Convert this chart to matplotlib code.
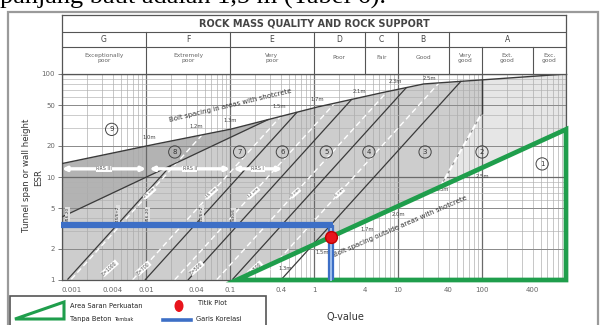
import numpy as np
import matplotlib
matplotlib.use("Agg")
import matplotlib.pyplot as plt
from matplotlib.patches import Rectangle, Polygon, Ellipse
from matplotlib.lines import Line2D

# ---------------- data ----------------
q_ticks = [0.001, 0.004, 0.01, 0.04, 0.1, 0.4, 1, 4, 10, 40, 100, 400]
q_tick_labels = ["0.001", "0.004", "0.01", "0.04", "0.1", "0.4", "1", "4",
                 "10", "40", "100", "400"]
span_ticks = [1, 2, 5, 10, 20, 50, 100]
span_tick_labels = ["1", "2", "5", "10", "20", "50", "100"]

class_letters = ["G", "F", "E", "D", "C", "B", "A"]
class_edges = [0.001, 0.01, 0.1, 1, 4, 10, 40, 1000]
class_names = ["Exceptionally\npoor", "Extremely\npoor", "Very\npoor", "Poor",
               "Fair", "Good", None]
a_sub_edges = [40, 100, 400, 1000]
a_sub_names = ["Very\ngood", "Ext.\ngood", "Exc.\ngood"]

# bolt spacing line in areas with shotcrete
upper_q = [0.001, 0.01, 0.1, 1, 5, 20, 1000]
upper_s = [13.5, 20, 29, 47, 63, 80, 100]

# boundary of category 8 (flatter line)
b8_q, b8_s, b8_slope = 0.001, 4.1, 0.385
# other category boundaries: Q where each crosses span/ESR = 17.5
cat_cross_q = [0.234, 0.76, 2.54, 9.7]
# leftmost steep line, starting at span/ESR = 1
left_q0 = 0.00115
cat_slope = 0.9

# boundary between categories 3 and 2 (dashed), then along Q = 100
b32_q = [31.8, 100, 100]
b32_s = [8.0, 41.8, 100]

# shotcrete thickness lines (dashed): Q where each crosses span/ESR = 7
shot_cross_q = [0.011, 0.06, 0.19, 0.6, 2.0]
shot_txt = ["25 cm", "15 cm", "12 cm", "9 cm", "5 cm"]

# energy absorption labels near the bottom
energy_q = [0.0037, 0.0093, 0.040, 0.20]
energy_txt = ["E=1000", "E=700", "E=500", "E=500"]

# rib / bolt specification labels (vertical)
spec_q = [0.0011, 0.0044, 0.0099, 0.044, 0.105]
spec_txt = ["Ø16-20", "D45/6+2", "Ø16-20", "D40/6+2", "Si30/6"]

# support category labels
cat_ids = ["9", "8", "7", "6", "5", "4", "3", "2", "1"]
cat_q = [0.0039, 0.022, 0.13, 0.42, 1.4, 4.5, 21, 100, 520]
cat_s = [29, 17.5, 17.5, 17.5, 17.5, 17.5, 17.5, 17.5, 13.4]

# bolt spacing labels
top_sp_q = [0.011, 0.040, 0.1, 0.39, 1.1, 3.5, 9.2, 24]
top_sp_s = [24, 30.6, 35, 48, 56, 68, 84, 91]
top_sp_txt = ["1.0m", "1.2m", "1.3m", "1.5m", "1.7m", "2.1m", "2.3m", "2.5m"]
low_sp_q = [0.45, 1.25, 4.3, 10, 34, 100]
low_sp_s = [1.28, 1.87, 3.06, 4.3, 7.5, 10]
low_sp_txt = ["1.3m", "1.5m", "1.7m", "2.0m", "2.3m", "2.5m"]

# reinforced ribs of shotcrete
rrs_q = [(0.001, 0.01), (0.011, 0.1), (0.11, 0.42)]
rrs_txt = ["RRS III", "RRS II", "RRS I"]
rrs_s = 12

# recommended area without shotcrete (triangle), correlation line and plot point
tri_q = [0.12, 1000, 1000]
tri_s = [1, 1, 29]
corr_span = 3.4
corr_q = 1.6
point_q = 1.6
point_s = 2.6

# ---------------- figure ----------------
W, H = 606, 325
fig = plt.figure(figsize=(W / 100, H / 100), dpi=100)


def fx(x):
    return x / W


def fy(y):
    return 1 - y / H


# running text of the page above the chart (cut at the top edge)
fig.text(fx(0), fy(3.5), "panjang baut adalah 1,5 m (Tabel 6).",
         family="Liberation Serif", fontsize=19, color="black",
         ha="left", va="baseline")

# outer frame of the figure
fig.patches.append(Rectangle((fx(8), fy(330)), fx(598) - fx(8), fy(12) - fy(330),
                             transform=fig.transFigure, fill=False,
                             ec="#9a9a9a", lw=1.6))

# ---------------- main axes ----------------
ax = fig.add_axes([fx(62), fy(280), fx(566) - fx(62), fy(74) - fy(280)])
ax.set_xscale("log")
ax.set_yscale("log")
ax.set_xlim(0.001, 1000)
ax.set_ylim(1, 100)

qq = np.logspace(-3, 3, 600)
lq = np.log10(qq)
upper = 10 ** np.interp(lq, np.log10(upper_q), np.log10(upper_s))
tri_line = 10 ** np.interp(lq, np.log10([tri_q[0], tri_q[2]]),
                           np.log10([tri_s[0], tri_s[2]]))
b8 = b8_s * (qq / b8_q) ** b8_slope

# base shading below the upper line
ax.fill_between(qq, 1, upper, color="#cdcdcd", lw=0, zorder=0)
# category 8 (darker)
m8 = b8 < upper
ax.fill_between(qq[m8], b8[m8], upper[m8], color="#b3b3b3", lw=0, zorder=0.5)
# category 2 zone (lighter): right of the 3|2 boundary, above the triangle
b32_line = 10 ** np.interp(lq, np.log10(b32_q[:2]), np.log10(b32_s[:2]),
                           left=-5, right=5)
m2 = qq >= b32_q[0]
lo2 = tri_line[m2]
hi2 = np.where(qq[m2] < 100, np.minimum(b32_line[m2], upper[m2]), upper[m2])
ax.fill_between(qq[m2], lo2, np.maximum(hi2, lo2), color="#e6e6e6", lw=0, zorder=0.6)
# inside the triangle (white)
mt = qq >= tri_q[0]
ax.fill_between(qq[mt], 1, tri_line[mt], color="white", lw=0, zorder=0.7)

# grid
minor_x = [m * 10.0 ** e for e in range(-3, 3) for m in range(2, 10)]
for v in minor_x:
    ax.axvline(v, color="#a8a8a8", lw=0.45, zorder=1)
for e in range(-3, 4):
    ax.axvline(10.0 ** e, color="#6a6a6a", lw=0.9, zorder=1)
minor_y = [m * 10.0 ** e for e in range(0, 2) for m in range(2, 10)]
for v in minor_y:
    ax.axhline(v, color="#b0b0b0", lw=0.45, zorder=1)
for v in [2, 5, 20, 50]:
    ax.axhline(v, color="#8a8a8a", lw=0.7, zorder=1)
ax.axhline(10, color="#6a6a6a", lw=0.9, zorder=1)

LINE = "#3a3a3a"
# upper boundary line
ax.plot(qq, upper, color=LINE, lw=1.0, zorder=3)
# boundary of category 8
ax.plot(qq[m8], b8[m8], color=LINE, lw=0.9, zorder=3)
# leftmost steep line, up to the category 8 boundary
ln = (qq / left_q0) ** cat_slope
m = (ln >= 1) & (ln < b8)
ax.plot(qq[m], ln[m], color=LINE, lw=0.9, zorder=3)
# other category boundaries
for c in cat_cross_q:
    ln = 17.5 * (qq / c) ** cat_slope
    m = (ln < upper) & (ln >= 1)
    ax.plot(qq[m], ln[m], color=LINE, lw=0.9, zorder=3)
# 3|2 boundary
ax.plot(b32_q[:2], b32_s[:2], color="white", lw=1.5, ls=(0, (3, 1.5)), zorder=3)
ax.plot(b32_q[:2], b32_s[:2], color="#777", lw=0.5, zorder=2.9)
ax.plot(b32_q[1:], [b32_s[1], 10 ** np.interp(2, np.log10(upper_q), np.log10(upper_s))],
        color=LINE, lw=1.0, zorder=3)

# shotcrete thickness lines (white dashed) with labels
for c, t in zip(shot_cross_q, shot_txt):
    ln = 7 * (qq / c) ** cat_slope
    m = (ln < upper) & (ln >= 1)
    ax.plot(qq[m], ln[m], color="white", lw=1.0, ls=(0, (4, 2.5)), zorder=2.5)
    ax.text(c, 7, t, fontsize=3.2, color="#444", rotation=42, ha="center",
            va="center", zorder=4,
            bbox=dict(boxstyle="square,pad=0.12", fc="white", ec="none"))

# energy absorption labels
for q, t in zip(energy_q, energy_txt):
    ax.text(q, 1.3, t, fontsize=3.3, rotation=42, color="#444",
            ha="center", va="center", zorder=4,
            bbox=dict(boxstyle="square,pad=0.12", fc="white", ec="none"))

# rib / bolt specification labels
for q, t in zip(spec_q, spec_txt):
    ax.text(q, 4.3, t, fontsize=3.0, rotation=90, color="#333",
            ha="left", va="center", zorder=4,
            bbox=dict(boxstyle="square,pad=0.1", fc="#e0e0e0", ec="none"))

# RRS arrows
for (a, b), t in zip(rrs_q, rrs_txt):
    ax.annotate("", xy=(b, rrs_s), xytext=(a, rrs_s),
                arrowprops=dict(arrowstyle="<|-|>", color="white", lw=2.4,
                                mutation_scale=6, shrinkA=0, shrinkB=0),
                zorder=4)
    ax.text(np.sqrt(a * b), rrs_s, t, fontsize=3.5, color="#555",
            ha="center", va="center", zorder=5,
            bbox=dict(boxstyle="square,pad=0.1", fc="white", ec="none"))

# category numbers
for t, q, s in zip(cat_ids, cat_q, cat_s):
    ax.text(q, s, t, fontsize=5, color="#333", ha="center", va="center",
            zorder=5, bbox=dict(boxstyle="circle,pad=0.45", fc="none",
                                ec="#444", lw=0.7))

# bolt spacing labels
for q, s, t in zip(top_sp_q, top_sp_s, top_sp_txt):
    ax.text(q, s, t, fontsize=3.8, color="#444", ha="center", va="center", zorder=5)
for q, s, t in zip(low_sp_q, low_sp_s, low_sp_txt):
    ax.text(q, s, t, fontsize=3.8, color="#444", ha="center", va="center", zorder=5)

ax.text(0.1, 49, "Bolt spacing in areas with shotcrete", fontsize=5,
        color="#333", rotation=13.5, ha="center", va="center", zorder=5)
ax.text(10.6, 3.3, "Bolt spacing outside areas with shotcrete", fontsize=5,
        color="#333", rotation=23.5, ha="center", va="center", zorder=5)

# triangle, correlation line, plot point
ax.add_patch(Polygon(list(zip(tri_q, tri_s)), closed=True, fill=False,
                     ec="#1f9e4c", lw=3.4, joinstyle="miter", zorder=6,
                     clip_on=False))
ax.plot([0.00097, corr_q * 1.04], [corr_span, corr_span], color="#3d6fc6", lw=4.5,
        solid_capstyle="butt", zorder=7, clip_on=False)
ax.plot([corr_q, corr_q], [corr_span, 1], color="#3d6fc6", lw=4.5,
        solid_capstyle="butt", zorder=7, clip_on=False)
ax.plot([corr_q, corr_q], [corr_span * 0.93, 1], color="#9fc0ee", lw=1.4,
        zorder=7.1, clip_on=False)
ax.plot([point_q], [point_s], "o", ms=8.5, color="#e8141c", mec="#c00000",
        zorder=8, clip_on=False)

# axes cosmetics
for sp in ax.spines.values():
    sp.set_color("#555")
    sp.set_linewidth(0.9)
ax.set_xticks(q_ticks)
ax.set_xticklabels(q_tick_labels)
ax.set_yticks(span_ticks)
ax.set_yticklabels(span_tick_labels)
ax.xaxis.set_minor_locator(matplotlib.ticker.NullLocator())
ax.yaxis.set_minor_locator(matplotlib.ticker.NullLocator())
ax.tick_params(axis="x", length=0, pad=5, labelsize=5, labelcolor="#666")
ax.tick_params(axis="y", length=3, width=0.6, color="#666", pad=2,
               labelsize=5, labelcolor="#666")
ax.get_xticklabels()[0].set_ha("left")

# ---------------- header table ----------------
tab = fig.add_axes([fx(62), fy(74), fx(566) - fx(62), fy(15) - fy(74)])
tab.set_xscale("log")
tab.set_xlim(0.001, 1000)
tab.set_ylim(0, 1)
tab.set_xticks([])
tab.set_yticks([])
tab.minorticks_off()
for sp in tab.spines.values():
    sp.set_color("#555")
    sp.set_linewidth(0.9)
r1 = (74 - 32) / 59
r2 = (74 - 47) / 59
tab.axhline(r1, color="#555", lw=0.8)
tab.axhline(r2, color="#555", lw=0.8)
tab.text(np.sqrt(0.001 * 1000), (1 + r1) / 2, "ROCK MASS QUALITY AND ROCK SUPPORT",
         ha="center", va="center", fontsize=7, weight="bold", color="#444")
for i, L in enumerate(class_letters):
    a, b = class_edges[i], class_edges[i + 1]
    if i > 0:
        tab.plot([a, a], [0, r1], color="#555", lw=0.8)
    tab.text(np.sqrt(a * b), (r1 + r2) / 2, L, ha="center", va="center",
             fontsize=5.5, color="#444")
    if class_names[i]:
        tab.text(np.sqrt(a * b), r2 / 2 + 0.05, class_names[i], ha="center",
                 va="center", fontsize=4.2, color="#666", linespacing=1.0)
for j, name in enumerate(a_sub_names):
    a, b = a_sub_edges[j], a_sub_edges[j + 1]
    if j > 0:
        tab.plot([a, a], [0, r2], color="#555", lw=0.8)
    tab.text(np.sqrt(a * b), r2 / 2 + 0.05, name, ha="center", va="center",
             fontsize=4.2, color="#666", linespacing=1.0)

# ---------------- axis titles ----------------
fig.text(fx(27), fy(175), "Tunnel span or wall height", rotation=90,
         ha="center", va="center", fontsize=6.2, color="#333")
fig.text(fx(39), fy(177), "ESR", rotation=90, ha="center", va="center",
         fontsize=6.2, color="#333")
fig.text(fx(345), fy(317), "Q-value", ha="center", va="center", fontsize=7,
         color="#333")

# ---------------- legend ----------------
fig.patches.append(Rectangle((fx(10), fy(340)), fx(266) - fx(10), fy(296) - fy(340),
                             transform=fig.transFigure, fill=False,
                             ec="#555", lw=1.2))
fig.patches.append(Polygon([(fx(15), fy(319)), (fx(64), fy(319)), (fx(64), fy(302))],
                           closed=True, transform=fig.transFigure, fill=False,
                           ec="#1f9e4c", lw=2.2))
fig.text(fx(70), fy(306), "Area Saran Perkuatan", fontsize=4.8, color="#222",
         va="center")
fig.text(fx(70), fy(319), "Tanpa Beton", fontsize=4.8, color="#222", va="center")
fig.text(fx(114), fy(319.5), "Tembak", fontsize=3.6, color="#222", va="center")
fig.patches.append(Ellipse((fx(179), fy(306)), 9 / W, 12 / H,
                           transform=fig.transFigure, fc="#e8141c", ec="none"))
fig.text(fx(198), fy(303), "Titik Plot", fontsize=4.8, color="#222", va="center")
fig.lines.append(Line2D([fx(163), fx(191)], [fy(320), fy(320)],
                        transform=fig.transFigure, color="#3d6fc6", lw=2.6))
fig.text(fx(196), fy(319), "Garis Korelasi", fontsize=4.8, color="#222",
         va="center")

fig.savefig("out.png", dpi=100)
